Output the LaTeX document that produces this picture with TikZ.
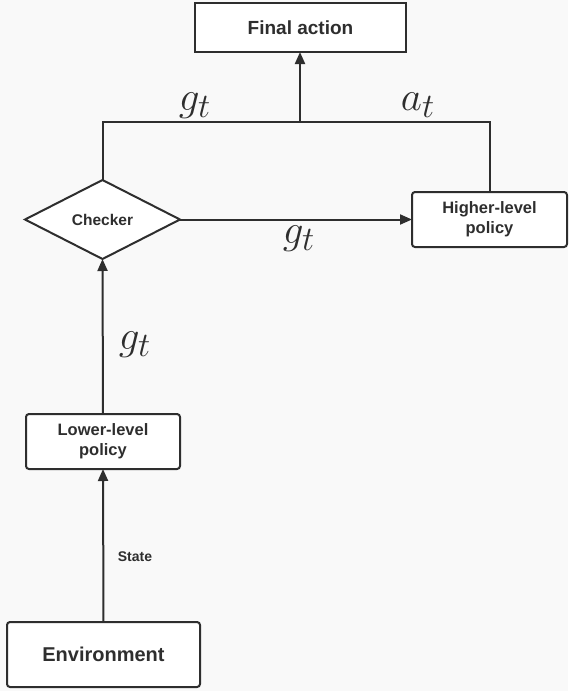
\documentclass[tikz,border=0pt]{standalone}
\usepackage{fontspec}
\usepackage{graphicx}
\setmainfont{Liberation Sans}
\usetikzlibrary{arrows.meta,shapes.geometric}
\definecolor{ink}{HTML}{2E2E2E}
\definecolor{paper}{HTML}{F9F9F9}
\newcommand{\biglbl}[1]{\scalebox{1.65}{\fontsize{24.88}{28}\selectfont$#1$}}
\begin{document}
\begin{tikzpicture}[x=1pt,y=-1pt,
  every node/.style={inner sep=0pt,outer sep=0pt},
  block/.style={draw=ink,line width=2pt,fill=white,rounded corners=3pt,
    text=ink,font=\bfseries\fontsize{16.5}{20}\selectfont,align=center},
  wire/.style={draw=ink,line width=2pt},
  arrow/.style={wire,-{Triangle[length=12pt,width=10pt]}},
  mathlbl/.style={text=ink}]
  % canvas
  \fill[paper] (0,0) rectangle (568,691);
  \useasboundingbox (0,0) rectangle (568,691);

  % boxes
  \node[block,rounded corners=0pt,minimum width=211pt,minimum height=49pt,
        font=\bfseries\fontsize{19}{22}\selectfont] (final) at (300.5,27.5) {Final action};
  \node[draw=ink,line width=2pt,fill=white,diamond,aspect=1.96,
        minimum width=155pt,minimum height=79pt,text=ink,
        font=\bfseries\fontsize{15.5}{18}\selectfont] (check) at (102.5,219.5) {Checker};
  \node[block,minimum width=155pt,minimum height=55pt] (high) at (489.5,219.5) {Higher-level\\policy};
  \node[block,minimum width=154pt,minimum height=55pt] (low) at (103,441.5) {Lower-level\\policy};
  \node[block,minimum width=193pt,minimum height=65pt,
        font=\bfseries\fontsize{20}{24}\selectfont] (env) at (103.5,654.5) {Environment};

  % junction line above the checker and the higher-level policy
  \coordinate (jl) at (101,122);
  \coordinate (jr) at (492,122);
  \coordinate (jm) at (300,122);
  \draw[wire] (check.north) -- (check.north |- jl) -- (high.north |- jr) -- (high.north);
  \draw[arrow] (jm) -- (final.south -| jm);

  % flow arrows
  \draw[arrow] (check.east) -- (high.west);
  \draw[arrow] (low.north) -- (check.south);
  \draw[arrow] (env.north) -- (low.south);

  % labels
  \node[mathlbl] (g1) at (195,106) {\biglbl{g_t}};
  \node[mathlbl] (a1) at (418,105) {\biglbl{a_t}};
  \node[mathlbl] (g2) at (299,239) {\biglbl{g_t}};
  \node[mathlbl] (g3) at (135,345) {\biglbl{g_t}};
  \node[text=ink,font=\bfseries\fontsize{14}{16}\selectfont] (st) at (135,557) {State};
\end{tikzpicture}
\end{document}
